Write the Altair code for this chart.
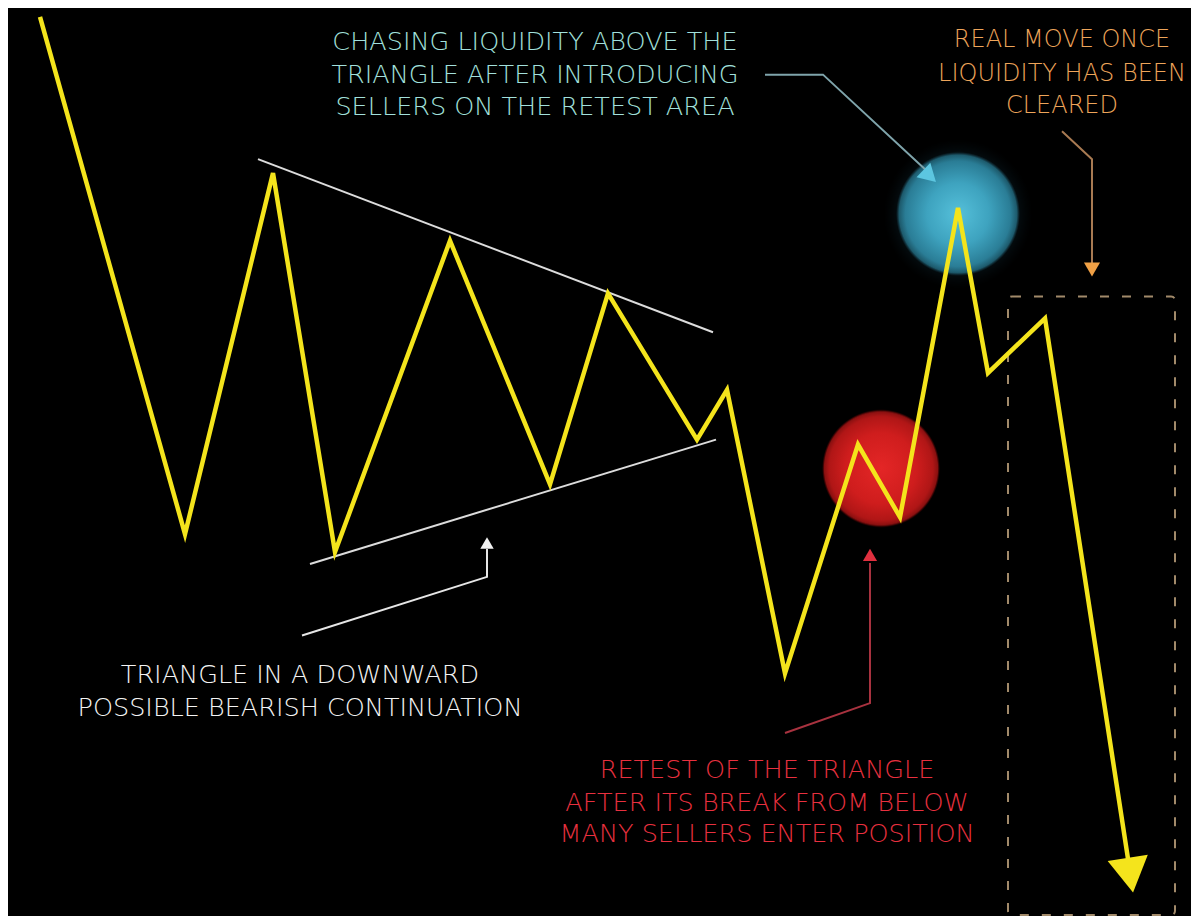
import altair as alt
import pandas as pd

# ---------------- data (x position, price level; price grows upward) ----------------
path_x = [40, 185, 273, 335, 450, 550, 608, 697, 727, 785, 858, 900, 958, 988, 1045, 1129]
path_y = [909, 389, 752, 371, 684, 439, 631, 484, 534, 249, 479, 406, 717, 551, 606, 56]

# final arrowhead of the price path
head_x = [1130.4]
head_y = [46]
head_angle = [171.3]

# triangle trendlines
upper_x = [258, 713]
upper_y = [766, 592]
lower_x = [310, 716]
lower_y = [359, 484]

# annotation leader lines (polyline points)
white_arrow_x = [302, 487, 487]
white_arrow_y = [287, 346, 374]
red_arrow_x = [785, 870, 870]
red_arrow_y = [189, 219, 360]
blue_arrow_x = [765, 823, 928]
blue_arrow_y = [851, 851, 753]
orange_arrow_x = [1062, 1092, 1092]
orange_arrow_y = [794, 766, 660]

# small arrowheads: x, y, angle, size, colour
tip_x = [487, 870, 929.7, 1092]
tip_y = [380, 368, 749, 655]
tip_angle = [0, 0, 133.6, 180]
tip_size = [180, 200, 400, 260]
tip_color = ["#f2f2f2", "#e0303f", "#5cc6e0", "#f0a045"]

# highlighted zones
blue_zone = (958, 711, 124)
red_zone = (881, 455, 118)

# dashed box
box_x = [1008, 1175]
box_y = [628, 6]

# annotation texts
blue_lines = ["CHASING LIQUIDITY ABOVE THE", "TRIANGLE AFTER INTRODUCING", "SELLERS ON THE RETEST AREA"]
blue_pos = (535, [884, 851, 818])
orange_lines = ["REAL MOVE ONCE", "LIQUIDITY HAS BEEN", "CLEARED"]
orange_pos = (1062, [886, 852, 819])
white_lines = ["TRIANGLE IN A DOWNWARD", "POSSIBLE BEARISH CONTINUATION"]
white_pos = (300, [247, 214])
red_lines = ["RETEST OF THE TRIANGLE", "AFTER ITS BREAK FROM BELOW", "MANY SELLERS ENTER POSITION"]
red_pos = (767, [152, 119, 87])

# ---------------- scales ----------------
xs = alt.Scale(domain=[8, 1191], nice=False, zero=False)
ys = alt.Scale(domain=[8, 916], nice=False, zero=False)
X = lambda f="x": alt.X(f"{f}:Q", scale=xs, axis=None)
Y = lambda f="y": alt.Y(f"{f}:Q", scale=ys, axis=None)


def polyline(xv, yv, color, width, opacity=1.0):
    df = pd.DataFrame({"x": xv, "y": yv, "o": range(len(xv))})
    return alt.Chart(df).mark_line(color=color, strokeWidth=width, strokeJoin="miter",
                                   strokeCap="butt", opacity=opacity).encode(
        x=X(), y=Y(), order="o:Q")


def zone(center, stops, scale=1.0):
    cx, cy, d = center
    df = pd.DataFrame({"x": [cx], "y": [cy]})
    return alt.Chart(df).mark_point(
        shape="circle", filled=True, opacity=1, strokeWidth=0,
        size=(d * scale) ** 2,
        fill={"gradient": "radial", "x1": 0.5, "y1": 0.5, "r1": 0,
              "x2": 0.5, "y2": 0.5, "r2": 0.5,
              "stops": [{"offset": o, "color": c} for o, c in stops]},
    ).encode(x=X(), y=Y())


blue_glow = zone(blue_zone, [(0, "rgba(60,160,190,0.3)"), (0.75, "rgba(40,120,150,0.15)"),
                             (1, "rgba(20,60,80,0)")], 1.2)
blue_circle = zone(blue_zone, [(0, "#55c0da"), (0.5, "#3ea3bf"), (0.85, "#2a7d96"),
                               (0.95, "#1d5a6c"), (1, "rgba(20,60,75,0)")])
red_circle = zone(red_zone, [(0, "#e42626"), (0.6, "#cf1d1d"), (0.88, "#b01616"),
                             (0.96, "#8a1010"), (1, "rgba(90,0,0,0)")])

box_df = pd.DataFrame({"x": [box_x[0]], "x2": [box_x[1]], "y": [box_y[0]], "y2": [box_y[1]]})
box = alt.Chart(box_df).mark_rect(filled=False, stroke="#a28a6a", strokeWidth=2,
                                  strokeDash=[9, 13], cornerRadius=4).encode(
    x=X(), x2="x2:Q", y=Y(), y2="y2:Q")

upper = polyline(upper_x, upper_y, "#dcdcdc", 2)
lower = polyline(lower_x, lower_y, "#dcdcdc", 2)
white_arrow = polyline(white_arrow_x, white_arrow_y, "#e6e6e6", 2)
red_arrow = polyline(red_arrow_x, red_arrow_y, "#a8323f", 2)
blue_arrow = polyline(blue_arrow_x, blue_arrow_y, "#7fa4ab", 2)
orange_arrow = polyline(orange_arrow_x, orange_arrow_y, "#a87a52", 2)

tips_df = pd.DataFrame({"x": tip_x, "y": tip_y, "a": tip_angle, "s": tip_size, "c": tip_color})
tips = alt.Chart(tips_df).mark_point(shape="triangle-up", filled=True, opacity=1,
                                     strokeWidth=0).encode(
    x=X(), y=Y(), angle=alt.Angle("a:Q", scale=None),
    size=alt.Size("s:Q", scale=None), color=alt.Color("c:N", scale=None))

path = polyline(path_x, path_y, "#f4e41c", 4.5)
head_df = pd.DataFrame({"x": head_x, "y": head_y, "a": head_angle})
head = alt.Chart(head_df).mark_point(shape="triangle-up", filled=True, opacity=1,
                                     color="#f4e41c", size=1650, strokeWidth=0).encode(
    x=X(), y=Y(), angle=alt.Angle("a:Q", scale=None))

rows = []
for lines, (cx, ys_), col, fs in [(blue_lines, blue_pos, "#a2e0dc", 25.5),
                                  (orange_lines, orange_pos, "#eea55a", 24),
                                  (white_lines, white_pos, "#f4f4f4", 25.5),
                                  (red_lines, red_pos, "#e8303f", 25.5)]:
    for t, yy in zip(lines, ys_):
        rows.append({"t": t, "x": cx, "y": yy, "c": col, "fs": fs})
text_df = pd.DataFrame(rows)
texts = alt.Chart(text_df).mark_text(font="DejaVu Sans", fontWeight=200,
                                     align="center", baseline="middle").encode(
    x=X(), y=Y(), text="t:N", color=alt.Color("c:N", scale=None),
    size=alt.Size("fs:Q", scale=None))

chart = alt.layer(
    blue_glow, blue_circle, red_circle, box, upper, lower,
    white_arrow, red_arrow, blue_arrow, orange_arrow, tips, path, head, texts
).properties(
    width=1183, height=908, background="black", padding=0,
    autosize=alt.AutoSizeParams(type="fit", contains="padding"),
).configure_view(strokeWidth=0)

chart.save("out.html", embed_options={"renderer": "svg", "actions": False})
